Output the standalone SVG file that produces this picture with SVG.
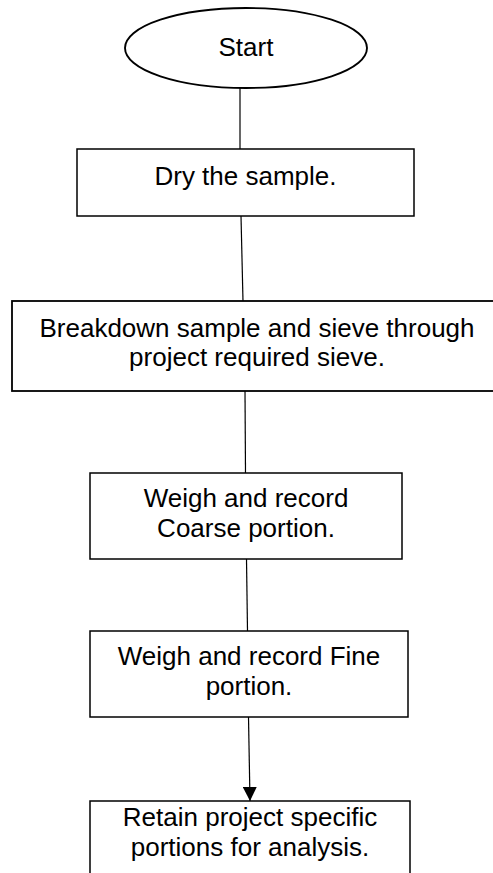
<svg xmlns="http://www.w3.org/2000/svg" width="493" height="873" viewBox="0 0 493 873">
<style>
.shape{fill:#fff;stroke:#000;stroke-width:1.5}
.conn{stroke:#000;stroke-width:1.2;fill:none}
text{font-family:"Liberation Sans",Arial,sans-serif;font-size:26px;fill:#000;text-anchor:middle}
</style>
<defs>
<marker id="arrow" markerWidth="14" markerHeight="14" refX="14" refY="7" orient="auto" markerUnits="userSpaceOnUse">
<path d="M0,0 L14,7 L0,14 Z" fill="#000"/>
</marker>
</defs>
<rect width="493" height="873" fill="#fff"/>
<g id="connectors">
<line class="conn" x1="240" y1="88" x2="240" y2="149"/>
<line class="conn" x1="241" y1="216" x2="243" y2="301"/>
<line class="conn" x1="245" y1="391" x2="245.5" y2="473"/>
<line class="conn" x1="246.5" y1="559" x2="247.5" y2="631"/>
<line class="conn" x1="248.5" y1="717" x2="250" y2="801" marker-end="url(#arrow)"/>
</g>
<g id="start">
<ellipse class="shape" cx="246" cy="48" rx="121" ry="40" style="stroke-width:1.9"/>
<text x="246" y="56">Start</text>
</g>
<g id="dry">
<rect class="shape" x="77" y="149" width="337" height="67"/>
<text x="245.5" y="185">Dry the sample.</text>
</g>
<g id="breakdown">
<rect class="shape" x="12" y="301" width="490" height="90" style="stroke-width:1.8"/>
<text x="257" y="337">Breakdown sample and sieve through</text>
<text x="257" y="366">project required sieve.</text>
</g>
<g id="coarse">
<rect class="shape" x="90" y="473" width="312" height="86"/>
<text x="246" y="507">Weigh and record</text>
<text x="246" y="537">Coarse portion.</text>
</g>
<g id="fine">
<rect class="shape" x="90" y="631" width="318" height="86"/>
<text x="249" y="665">Weigh and record Fine</text>
<text x="249" y="695">portion.</text>
</g>
<g id="retain">
<rect class="shape" x="90" y="801" width="320" height="90"/>
<text x="250" y="826">Retain project specific</text>
<text x="250" y="856">portions for analysis.</text>
</g>
</svg>
